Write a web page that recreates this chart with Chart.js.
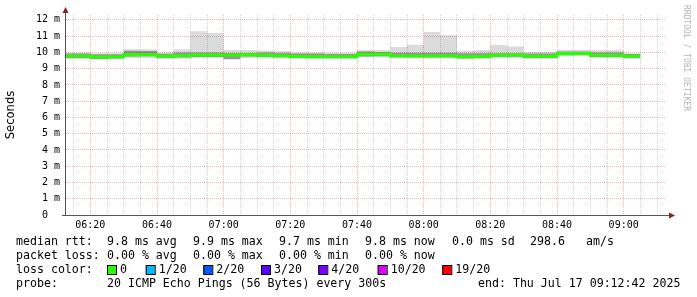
<!doctype html>
<html lang="en">
  <head>
    <meta charset="UTF-8" />
    <script src="https://cdn.jsdelivr.net/npm/chart.js@4.4.1/dist/chart.umd.min.js"></script>
    <style>
      body { margin: 0; background: #fff; }
      canvas { display: block; }
    </style>
  </head>
  <body>
    <canvas id="smokeChart" width="697" height="297"></canvas>

    <script>
      // 5 minute bins, values in ms
      const binStart = ['06:10','06:15','06:20','06:25','06:30','06:35','06:40','06:45','06:50','06:55',
                        '07:00','07:05','07:10','07:15','07:20','07:25','07:30','07:35','07:40','07:45',
                        '07:50','07:55','08:00','08:05','08:10','08:15','08:20','08:25','08:30','08:35',
                        '08:40','08:45','08:50','08:55','09:00'];
      const smokeMax = [10.00,10.00,9.95,9.95,10.20,10.20,10.00,10.20,11.30,11.20,
                        10.15,10.15,10.12,10.08,10.00,10.00,9.98,9.98,10.15,10.15,
                        10.33,10.47,11.25,11.05,10.10,10.15,10.45,10.37,10.02,10.02,
                        10.17,10.17,10.15,10.15,9.95];
      const smokeHigh = [9.93,9.93,9.88,9.88,10.10,10.08,9.92,10.00,10.00,10.00,
                         9.97,9.97,10.00,9.97,9.93,9.93,9.90,9.90,10.05,10.03,
                         9.98,9.98,9.98,9.98,9.95,9.95,9.95,9.95,9.93,9.93,
                         10.05,10.05,10.00,10.00,9.90];
      const medianRtt = [9.78,9.78,9.72,9.73,9.85,9.85,9.76,9.80,9.84,9.84,
                         9.84,9.85,9.82,9.80,9.75,9.74,9.74,9.74,9.88,9.88,
                         9.78,9.78,9.78,9.78,9.74,9.75,9.83,9.84,9.76,9.76,
                         9.93,9.93,9.82,9.82,9.76];
      const smokeLow = [9.66,9.66,9.60,9.62,9.75,9.76,9.66,9.68,9.72,9.72,
                        9.60,9.75,9.72,9.70,9.66,9.66,9.66,9.66,9.75,9.76,
                        9.72,9.70,9.70,9.70,9.64,9.65,9.74,9.74,9.66,9.66,
                        9.82,9.84,9.72,9.72,9.66];
      const smokeMin = [9.60,9.60,9.56,9.56,9.66,9.66,9.60,9.62,9.64,9.64,
                        9.55,9.66,9.64,9.62,9.60,9.60,9.60,9.60,9.68,9.68,
                        9.65,9.64,9.64,9.64,9.56,9.58,9.66,9.66,9.60,9.60,
                        9.76,9.78,9.66,9.66,9.60];

      const xTickLabels = ['06:20','06:40','07:00','07:20','07:40','08:00','08:20','08:40','09:00'];
      const yTickLabels = ['0  ','1 m','2 m','3 m','4 m','5 m','6 m','7 m','8 m','9 m','10 m','11 m','12 m'];

      const lossLabels = ['0','1/20','2/20','3/20','4/20','10/20','19/20'];
      const lossColors = ['#26ff00','#00b8ff','#0059ff','#5e00ff','#7e00ff','#dd00ff','#ff0000'];

      // minutes since 06:00
      function toMin(t) {
        const p = t.split(':');
        return (parseInt(p[0]) - 6) * 60 + parseInt(p[1]);
      }

      const startMin = toMin('06:12') + 42 / 60;
      const endMin = startMin + 180;

      // stepped line points: one per bin start, plus the end of the last bin
      function stepPoints(values) {
        const pts = values.map((v, i) => ({ x: toMin(binStart[i]), y: v }));
        pts.push({ x: toMin(binStart[binStart.length - 1]) + 5, y: values[values.length - 1] });
        return pts;
      }

      function edge(values) {
        return {
          data: stepPoints(values),
          stepped: true,
          borderColor: 'transparent',
          borderWidth: 0,
          pointRadius: 0,
          fill: false
        };
      }

      const monoFont = 'DejaVu Sans Mono';

      // axes, arrows, legend text and watermark
      const decorations = {
        id: 'decorations',
        afterDraw(chart) {
          const ctx = chart.ctx;
          const area = chart.chartArea;
          ctx.save();

          ctx.strokeStyle = '#555';
          ctx.lineWidth = 1;
          ctx.beginPath();
          ctx.moveTo(65.5, area.bottom + 0.5);
          ctx.lineTo(65.5, 11);
          ctx.moveTo(62, area.bottom + 0.5);
          ctx.lineTo(670, area.bottom + 0.5);
          ctx.stroke();

          ctx.fillStyle = '#8b1e1e';
          ctx.beginPath();
          ctx.moveTo(65.5, 7);
          ctx.lineTo(62.5, 13);
          ctx.lineTo(68.5, 13);
          ctx.closePath();
          ctx.fill();
          ctx.beginPath();
          ctx.moveTo(675, area.bottom + 0.5);
          ctx.lineTo(669, area.bottom - 2.5);
          ctx.lineTo(669, area.bottom + 3.5);
          ctx.closePath();
          ctx.fill();

          ctx.fillStyle = '#000';
          ctx.font = '11.6px "' + monoFont + '"';
          ctx.textBaseline = 'alphabetic';
          const rows = [
            [[16, 'median rtt:'], [107, '9.8 ms avg'], [193, '9.9 ms max'], [279, '9.7 ms min'],
             [365, '9.8 ms now'], [452, '0.0 ms sd'], [530, '298.6'], [586, 'am/s']],
            [[16, 'packet loss:'], [107, '0.00 % avg'], [193, '0.00 % max'], [279, '0.00 % min'],
             [365, '0.00 % now']],
            [[16, 'loss color:']],
            [[16, 'probe:'], [107, '20 ICMP Echo Pings (56 Bytes) every 300s'],
             [478, 'end: Thu Jul 17 09:12:42 2025']]
          ];
          rows.forEach((row, r) => {
            row.forEach(([x, txt]) => ctx.fillText(txt, x, 245 + r * 14));
          });

          const boxX = [107, 145.7, 203.3, 261, 318.3, 377.7, 442.3];
          lossLabels.forEach((lab, i) => {
            ctx.fillStyle = lossColors[i];
            ctx.fillRect(boxX[i], 265.5, 9, 9);
            ctx.strokeStyle = '#000';
            ctx.strokeRect(boxX[i] + 0.5, 265.5, 9, 9);
            ctx.fillStyle = '#000';
            ctx.fillText(lab, boxX[i] + 13, 273);
          });

          ctx.translate(686, 5);
          ctx.rotate(Math.PI / 2);
          ctx.fillStyle = '#b4b4b4';
          ctx.font = '8px "' + monoFont + '"';
          ctx.textBaseline = 'middle';
          ctx.fillText('RRDTOOL / TOBI OETIKER', 0, 0);
          ctx.restore();
        }
      };

      const xGrid = [];
      for (let m = Math.ceil(startMin / 5) * 5; m <= endMin; m += 5) xGrid.push(m);
      const yGrid = [];
      for (let v = 0; v <= 12; v += 0.5) yGrid.push(v);

      const majorColor = 'rgba(230, 120, 120, 0.55)';
      const minorColor = 'rgba(160, 160, 160, 0.45)';

      const ctx = document.getElementById('smokeChart').getContext('2d');
      const smokeChart = new Chart(ctx, {
        type: 'line',
        data: {
          datasets: [
            Object.assign(edge(medianRtt), { borderColor: lossColors[0], borderWidth: 3 }),
            edge(smokeHigh),
            Object.assign(edge(smokeLow), { fill: '-1', backgroundColor: 'rgba(0, 0, 0, 0.32)' }),
            edge(smokeMax),
            Object.assign(edge(smokeMin), { fill: '-1', backgroundColor: 'rgba(0, 0, 0, 0.14)' })
          ]
        },
        options: {
          responsive: false,
          animation: false,
          devicePixelRatio: 1,
          layout: { padding: { left: 0, top: 15, right: 31, bottom: 0 } },
          plugins: { legend: { display: false }, tooltip: { enabled: false } },
          scales: {
            x: {
              type: 'linear',
              bounds: 'data',
              min: startMin,
              max: endMin,
              afterBuildTicks: s => { s.ticks = xGrid.map(v => ({ value: v })); },
              afterFit: s => { s.height = 82; },
              grid: {
                drawTicks: false,
                lineWidth: 1,
                color: c => (c.tick && c.tick.value % 20 === 0) ? majorColor : minorColor
              },
              border: { display: false, dash: [1, 1] },
              ticks: {
                autoSkip: false,
                maxRotation: 0,
                minRotation: 0,
                padding: 4,
                color: '#000',
                font: { family: monoFont, size: 10 },
                callback: v => {
                  const lab = xTickLabels.find(t => toMin(t) === v);
                  return lab || '';
                }
              }
            },
            y: {
              type: 'linear',
              bounds: 'data',
              min: 0,
              max: 12.3,
              afterBuildTicks: s => { s.ticks = yGrid.map(v => ({ value: v })); },
              afterFit: s => { s.width = 66; },
              grid: {
                drawTicks: false,
                lineWidth: 1,
                color: c => (c.tick && Number.isInteger(c.tick.value)) ? majorColor : minorColor
              },
              border: { display: false, dash: [1, 1] },
              title: {
                display: true,
                text: 'Seconds',
                color: '#000',
                padding: { top: 4, bottom: 0 },
                font: { family: 'DejaVu Sans', size: 11.6 }
              },
              ticks: {
                padding: 6,
                color: '#000',
                font: { family: monoFont, size: 10 },
                callback: v => Number.isInteger(v) ? yTickLabels[v] : ''
              }
            }
          }
        },
        plugins: [decorations]
      });
    </script>
  </body>
</html>
